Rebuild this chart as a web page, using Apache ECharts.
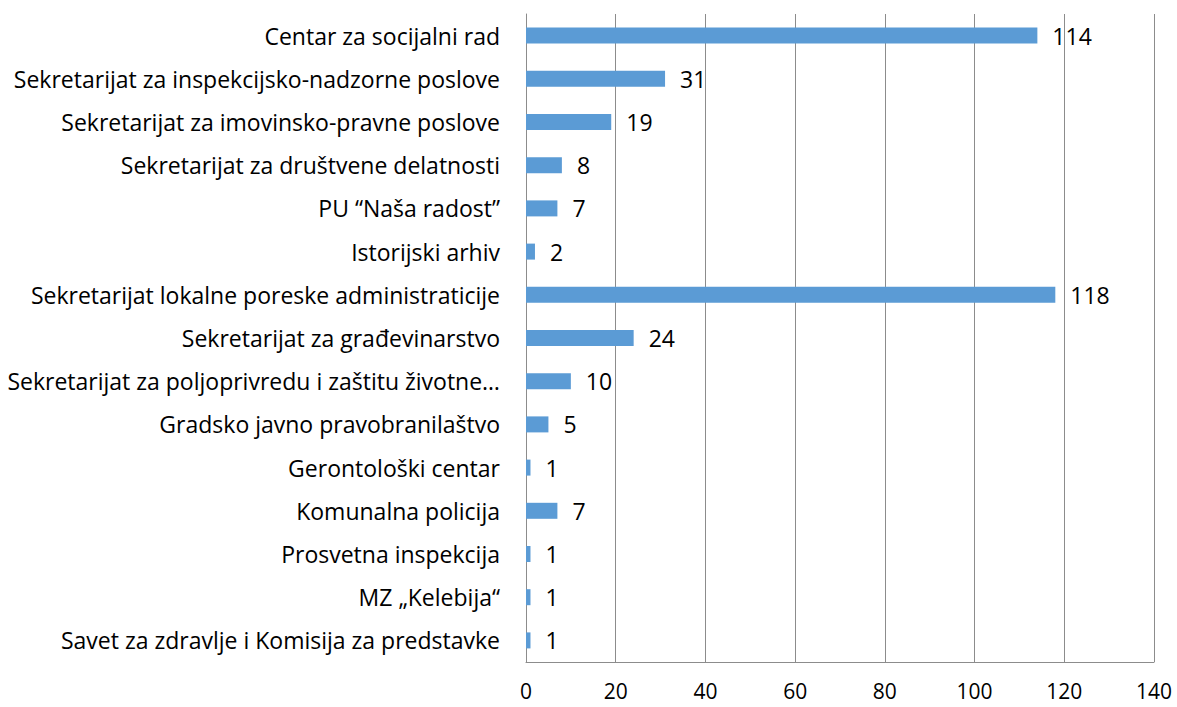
<!DOCTYPE html>
<html>
<head>
<meta charset="utf-8">
<script src="https://cdn.jsdelivr.net/npm/echarts@6/dist/echarts.min.js"></script>
<style>
  html, body { margin: 0; padding: 0; background: #fff; }
  #chart { width: 1177px; height: 707px; }
</style>
</head>
<body>
<div id="chart"></div>
<script>
var categories = [
  'Centar za socijalni rad',
  'Sekretarijat za inspekcijsko-nadzorne poslove',
  'Sekretarijat za imovinsko-pravne poslove',
  'Sekretarijat za društvene delatnosti',
  'PU \u201cNaša radost\u201d',
  'Istorijski arhiv',
  'Sekretarijat lokalne poreske administraticije',
  'Sekretarijat za građevinarstvo',
  'Sekretarijat za poljoprivredu i zaštitu životne\u2026',
  'Gradsko javno pravobranilaštvo',
  'Gerontološki centar',
  'Komunalna policija',
  'Prosvetna inspekcija',
  'MZ \u201eKelebija\u201c',
  'Savet za zdravlje i Komisija za predstavke'
];
var values = [114, 31, 19, 8, 7, 2, 118, 24, 10, 5, 1, 7, 1, 1, 1];

var fontFamily = '"Open Sans", sans-serif';
var gridColor = '#8c8c8c';

var chart = echarts.init(document.getElementById('chart'), null, { renderer: 'svg' });
chart.setOption({
  animation: false,
  grid: { left: 526, right: 23, top: 14, bottom: 45, containLabel: false },
  xAxis: {
    type: 'value',
    min: 0,
    max: 140,
    interval: 20,
    axisLine: { show: true, lineStyle: { color: gridColor } },
    axisTick: { show: false },
    splitLine: { lineStyle: { color: gridColor } },
    axisLabel: { color: '#000', fontSize: 21, fontFamily: fontFamily, margin: 18 }
  },
  yAxis: {
    type: 'category',
    inverse: true,
    data: categories,
    axisLine: { show: true, lineStyle: { color: gridColor } },
    axisTick: { show: false },
    axisLabel: { color: '#000', fontSize: 23, fontFamily: fontFamily, margin: 26 }
  },
  series: [{
    type: 'bar',
    data: values,
    barWidth: 16,
    itemStyle: { color: '#5b9bd5' },
    label: {
      show: true,
      position: 'right',
      distance: 15,
      color: '#000',
      fontSize: 23,
      fontFamily: fontFamily
    }
  }]
});
</script>
</body>
</html>
